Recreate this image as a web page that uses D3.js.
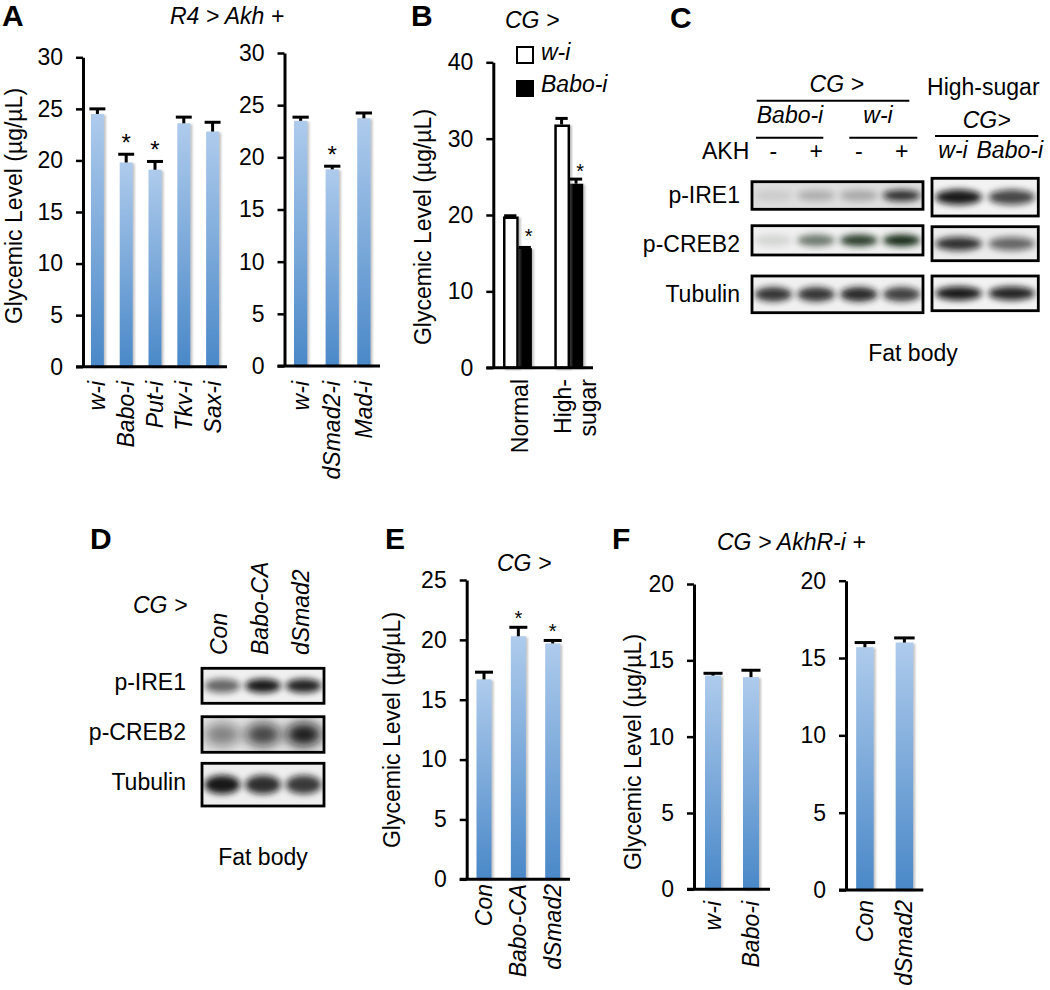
<!DOCTYPE html>
<html><head><meta charset="utf-8">
<script src="https://cdn.jsdelivr.net/npm/d3@7"></script>
<style>
body{margin:0;background:#fff}
svg{display:block;font-family:"Liberation Sans",Arial,sans-serif}
</style></head>
<body><svg id="fig" width="1050" height="990"></svg>
<script>
// ---------- DATA ----------
const aTicks = [0,5,10,15,20,25,30];
const aLeftCats = ["w-i","Babo-i","Put-i","Tkv-i","Sax-i"];
const aLeftVals = [24.5,19.8,19.1,23.6,22.8];
const aLeftErr  = [0.5,0.8,0.8,0.6,0.9];
const aLeftSig  = [false,true,true,false,false];
const aRightCats = ["w-i","dSmad2-i","Mad-i"];
const aRightVals = [23.5,18.85,23.75];
const aRightErr  = [0.35,0.3,0.5];
const aRightSig  = [false,true,false];

const bTicks = [0,10,20,30,40];
const bGroups = ["Normal","High-sugar"];
const bSeries = ["w-i","Babo-i"];
const bWiVals = [19.8,31.85];
const bWiErr  = [0.1,0.8];
const bBaboVals = [15.65,24.1];
const bBaboErr  = [0.1,0.6];
const bBaboSig  = [true,true];

const eTicks = [0,5,10,15,20,25];
const eCats = ["Con","Babo-CA","dSmad2"];
const eVals = [16.7,20.3,19.7];
const eErr  = [0.6,0.75,0.25];
const eSig  = [false,true,true];

const fTicks = [0,5,10,15,20];
const fLeftCats = ["w-i","Babo-i"];
const fLeftVals = [14.0,13.9];
const fLeftErr  = [0.15,0.45];
const fRightCats = ["Con","dSmad2"];
const fRightVals = [15.7,16.0];
const fRightErr  = [0.3,0.3];

const blotRows = ["p-IRE1","p-CREB2","Tubulin"];
const cLeftLanes = ["Babo-i -","Babo-i +","w-i -","w-i +"];
const cAkh = ["-","+","-","+"];
const cLeftIntensity = [[0.08,0.22,0.25,0.85],[0.12,0.6,0.9,1.0],[0.85,0.85,0.9,0.8]];
const cRightLanes = ["w-i","Babo-i"];
const cRightIntensity = [[0.95,0.75],[0.85,0.6],[0.95,0.9]];
const dLanes = ["Con","Babo-CA","dSmad2"];
const dIntensity = [[0.6,0.95,0.9],[0.45,0.75,0.95],[0.95,0.85,0.8]];

// ---------- SETUP ----------
const svg = d3.select("#fig");
svg.append("rect").attr("width",1050).attr("height",990).attr("fill","#fff");
const defs = svg.append("defs");
const grad = defs.append("linearGradient").attr("id","barGrad").attr("x1",0).attr("y1",0).attr("x2",0).attr("y2",1);
grad.append("stop").attr("offset","0%").attr("stop-color","#aecbec");
grad.append("stop").attr("offset","100%").attr("stop-color","#4a88c8");
const sh = defs.append("filter").attr("id","shadow").attr("x","-20%").attr("y","-5%").attr("width","150%").attr("height","110%");
sh.append("feDropShadow").attr("dx",2).attr("dy",1).attr("stdDeviation",1.2).attr("flood-color","#777").attr("flood-opacity",0.45);
const blur = defs.append("filter").attr("id","blur").attr("x","-50%").attr("y","-100%").attr("width","200%").attr("height","300%");
blur.append("feGaussianBlur").attr("stdDeviation",3.2);
const blur2 = defs.append("filter").attr("id","blur2").attr("x","-50%").attr("y","-100%").attr("width","200%").attr("height","300%");
blur2.append("feGaussianBlur").attr("stdDeviation",6);

const FS = 23;
function txt(x,y,s,o={}){
  const t = svg.append("text").attr("x",x).attr("y",y).text(s)
    .attr("font-size",o.size||FS).attr("fill","#000");
  if(o.italic) t.attr("font-style","italic");
  if(o.bold) t.attr("font-weight","bold");
  if(o.anchor) t.attr("text-anchor",o.anchor);
  return t;
}
function vtxt(x,y,s,o={}){
  const t = svg.append("text").attr("transform",`translate(${x},${y}) rotate(-90)`)
    .attr("text-anchor",o.anchor||"end").attr("dy","0.35em").text(s)
    .attr("font-size",o.size||FS).attr("fill","#000");
  if(o.italic) t.attr("font-style","italic");
  return t;
}

function yAxis(x0,y,ticks,xEnd){
  const g = svg.append("g").attr("transform",`translate(${x0},0)`)
    .call(d3.axisLeft(y).tickValues(ticks).tickFormat(d3.format("d")).tickSize(7).tickSizeOuter(0).tickPadding(13));
  g.select(".domain").attr("stroke","#000").attr("stroke-width",3);
  g.selectAll(".tick line").attr("stroke","#000").attr("stroke-width",2.5);
  g.selectAll(".tick text").attr("font-size",FS).attr("fill","#000").attr("font-family","Liberation Sans, Arial, sans-serif");
  svg.append("line").attr("x1",x0-7).attr("x2",xEnd).attr("y1",y(0)).attr("y2",y(0))
    .attr("stroke","#000").attr("stroke-width",3);
}

function errBar(cx,yTop,yErr,w){
  svg.append("line").attr("x1",cx).attr("x2",cx).attr("y1",yTop).attr("y2",yErr).attr("stroke","#000").attr("stroke-width",3);
  svg.append("line").attr("x1",cx-w/2).attr("x2",cx+w/2).attr("y1",yErr).attr("y2",yErr).attr("stroke","#000").attr("stroke-width",3);
}

function blueChart(o){
  const y = d3.scaleLinear().domain([0,o.ymax]).range([o.y0,o.y1]);
  const x = d3.scaleBand().domain(o.cats).range([o.x0,o.x1]).paddingInner(o.pi).paddingOuter(o.po);
  const bw = x.bandwidth();
  o.cats.forEach((c,i)=>{
    const v=o.vals[i], e=o.errs[i];
    svg.append("rect").attr("x",x(c)).attr("y",y(v)).attr("width",bw).attr("height",y(0)-y(v))
      .attr("fill","url(#barGrad)").attr("filter","url(#shadow)");
    errBar(x(c)+bw/2,y(v),y(v+e),bw+3);
    if(o.sigs && o.sigs[i]) txt(x(c)+bw/2,y(v+e)-(o.starGap||3),"*",{anchor:"middle",size:o.starSize||24});
    vtxt(x(c)+bw/2,o.labelTop,c,{italic:true});
  });
  yAxis(o.x0,y,o.ticks,o.x1);
}

// ---------- PANEL A ----------
txt(2,26,"A",{bold:true,size:30});
txt(170,24,"R4 > Akh +",{italic:true});
vtxt(14,206,"Glycemic Level (µg/µL)",{anchor:"middle"});
blueChart({cats:aLeftCats,vals:aLeftVals,errs:aLeftErr,sigs:aLeftSig,ymax:30,ticks:aTicks,
  x0:83,x1:227,y0:366.7,y1:57.3,pi:0.55,po:0.275,labelTop:381});
blueChart({cats:aRightCats,vals:aRightVals,errs:aRightErr,sigs:aRightSig,ymax:30,ticks:aTicks,
  x0:284.5,x1:380,y0:366,y1:53,pi:0.58,po:0.3,labelTop:381});

// ---------- PANEL B ----------
txt(411,26,"B",{bold:true,size:30});
txt(505,28,"CG >",{italic:true});
svg.append("rect").attr("x",517).attr("y",47).attr("width",16).attr("height",16).attr("fill","#fff").attr("stroke","#000").attr("stroke-width",2);
svg.append("rect").attr("x",516).attr("y",80).attr("width",18).attr("height",17).attr("fill","#000");
txt(541,60,bSeries[0],{italic:true});
txt(541,92,bSeries[1],{italic:true});
vtxt(423,227,"Glycemic Level (µg/µL)",{anchor:"middle"});
{
  const y = d3.scaleLinear().domain([0,40]).range([367.7,62.3]);
  const x = d3.scaleBand().domain(bGroups).range([493.3,593]).paddingInner(0.437).paddingOuter(0.19);
  const xs = d3.scaleBand().domain(bSeries).range([0,x.bandwidth()]);
  const bw = xs.bandwidth();
  bGroups.forEach((g,i)=>{
    const xw = x(g)+xs("w-i"), xb = x(g)+xs("Babo-i");
    svg.append("rect").attr("x",xb).attr("y",y(bBaboVals[i])).attr("width",bw).attr("height",y(0)-y(bBaboVals[i]))
      .attr("fill","#000").attr("filter","url(#shadow)");
    svg.append("rect").attr("x",xw+1.2).attr("y",y(bWiVals[i])+1.2).attr("width",bw-1.2).attr("height",y(0)-y(bWiVals[i])-1.2)
      .attr("fill","#fff").attr("stroke","#000").attr("stroke-width",2.5).attr("filter","url(#shadow)");
    errBar(xw+bw/2,y(bWiVals[i]),y(bWiVals[i]+bWiErr[i]),bw*0.85);
    errBar(xb+bw/2,y(bBaboVals[i]),y(bBaboVals[i]+bBaboErr[i]),bw*0.85);
    if(bBaboSig[i]) txt(xb+bw/2+4,y(bBaboVals[i]+bBaboErr[i])-(i===0?4:1),"*",{anchor:"middle",size:20});
  });
  yAxis(493.3,y,bTicks,593);
  vtxt(x("Normal")+x.bandwidth()/2+2,379,"Normal");
  vtxt(x("High-sugar")+x.bandwidth()/2-6,379,"High-");
  vtxt(x("High-sugar")+x.bandwidth()/2+19,379,"sugar");
}

// ---------- BLOT helper ----------
function blot(x0,x1,rowsY,lanes,intens,opt={}){
  const xl = d3.scaleBand().domain(lanes).range([x0,x1]);
  rowsY.forEach((r,ri)=>{
    const id = "clip"+Math.round(x0)+"_"+ri+"_"+Math.round(r[0]);
    defs.append("clipPath").attr("id",id).append("rect").attr("x",x0).attr("y",r[0]).attr("width",x1-x0).attr("height",r[1]-r[0]);
    const g = svg.append("g").attr("clip-path",`url(#${id})`);
    g.append("rect").attr("x",x0).attr("y",r[0]).attr("width",x1-x0).attr("height",r[1]-r[0])
      .attr("fill",(opt.bg&&opt.bg[ri])||"#efefef");
    const col = (opt.col&&opt.col[ri])||"#111";
    const ryf = (opt.ry&&opt.ry[ri])||0.2;
    lanes.forEach((l,li)=>{
      const cx = xl(l)+xl.bandwidth()/2, cy=(r[0]+r[1])/2;
      g.append("ellipse").attr("cx",cx).attr("cy",cy).attr("rx",xl.bandwidth()*0.44).attr("ry",(r[1]-r[0])*ryf)
        .attr("fill",col).attr("opacity",intens[ri][li]).attr("filter",ryf>0.25?"url(#blur2)":"url(#blur)");
    });
    svg.append("rect").attr("x",x0).attr("y",r[0]).attr("width",x1-x0).attr("height",r[1]-r[0])
      .attr("fill","none").attr("stroke","#000").attr("stroke-width",2.8);
  });
  return xl;
}

// ---------- PANEL C ----------
txt(670,28,"C",{bold:true,size:30});
{
  const xl = blot(752,923,[[181.7,209.3],[225.7,255],[276,312.7]],cLeftLanes,cLeftIntensity,
    {bg:["#dedede","#f0f0f0","#f0f0f0"],col:["#111","#142c18","#141414"]});
  const xr = blot(932,1038.3,[[178.3,216],[226.7,260.7],[276,310.7]],cRightLanes,cRightIntensity,
    {bg:["#f2f2f2","#ececec","#f2f2f2"]});
  [203.3,252,301.7].forEach((yb,i)=>txt(740,yb,blotRows[i],{anchor:"end"}));
  txt(836.7,92,"CG >",{italic:true,anchor:"middle"});
  svg.append("line").attr("x1",756.7).attr("x2",909.3).attr("y1",100.7).attr("y2",100.7).attr("stroke","#000").attr("stroke-width",2);
  txt(790,123,"Babo-i",{italic:true,anchor:"middle"});
  txt(878,123,"w-i",{italic:true,anchor:"middle"});
  svg.append("line").attr("x1",756).attr("x2",823.3).attr("y1",137.7).attr("y2",137.7).attr("stroke","#000").attr("stroke-width",2);
  svg.append("line").attr("x1",849.3).attr("x2",917.3).attr("y1",137.7).attr("y2",137.7).attr("stroke","#000").attr("stroke-width",2);
  txt(702,159.3,"AKH");
  cLeftLanes.forEach((l,i)=>txt(xl(l)+xl.bandwidth()/2,159.3,cAkh[i],{anchor:"middle"}));
  txt(983.3,95,"High-sugar",{anchor:"middle"});
  txt(986.7,128.3,"CG>",{italic:true,anchor:"middle"});
  svg.append("line").attr("x1",935).attr("x2",1038.3).attr("y1",136).attr("y2",136).attr("stroke","#000").attr("stroke-width",2);
  txt(953,158.3,cRightLanes[0],{italic:true,anchor:"middle"});
  txt(1043,158.3,cRightLanes[1],{italic:true,anchor:"end"});
  txt(913,361,"Fat body",{anchor:"middle"});
}

// ---------- PANEL D ----------
txt(90,549,"D",{bold:true,size:30});
txt(133,613,"CG >",{italic:true});
{
  const xl = blot(202,324,[[668.3,703.3],[716.7,752.3],[763.3,806]],dLanes,dIntensity,
    {bg:["#f0f0f0","#e4e4e4","#eeeeee"],ry:[0.2,0.32,0.22]});
  dLanes.forEach(l=>vtxt(xl(l)+xl.bandwidth()/2-3,655,l,{italic:true,anchor:"start"}));
  [690,740,790].forEach((yb,i)=>txt(186,yb,blotRows[i],{anchor:"end"}));
  txt(263,865,"Fat body",{anchor:"middle"});
}

// ---------- PANEL E ----------
txt(385,549,"E",{bold:true,size:30});
txt(497,571,"CG >",{italic:true});
vtxt(392,730,"Glycemic Level (µg/µL)",{anchor:"middle"});
blueChart({cats:eCats,vals:eVals,errs:eErr,sigs:eSig,ymax:25,ticks:eTicks,
  x0:466.7,x1:570,y0:879.3,y1:580,pi:0.563,po:0.285,labelTop:884,starSize:20,starGap:2});

// ---------- PANEL F ----------
txt(612,549,"F",{bold:true,size:30});
txt(717,550,"CG > AkhR-i +",{italic:true});
vtxt(633,752,"Glycemic Level (µg/µL)",{anchor:"middle"});
blueChart({cats:fLeftCats,vals:fLeftVals,errs:fLeftErr,ymax:20,ticks:fTicks,
  x0:694,x1:770,y0:889.3,y1:584,pi:0.578,po:0.29,labelTop:901});
blueChart({cats:fRightCats,vals:fRightVals,errs:fRightErr,ymax:20,ticks:fTicks,
  x0:846,x1:923.3,y0:890,y1:580.7,pi:0.557,po:0.257,labelTop:900});
</script></body></html>
